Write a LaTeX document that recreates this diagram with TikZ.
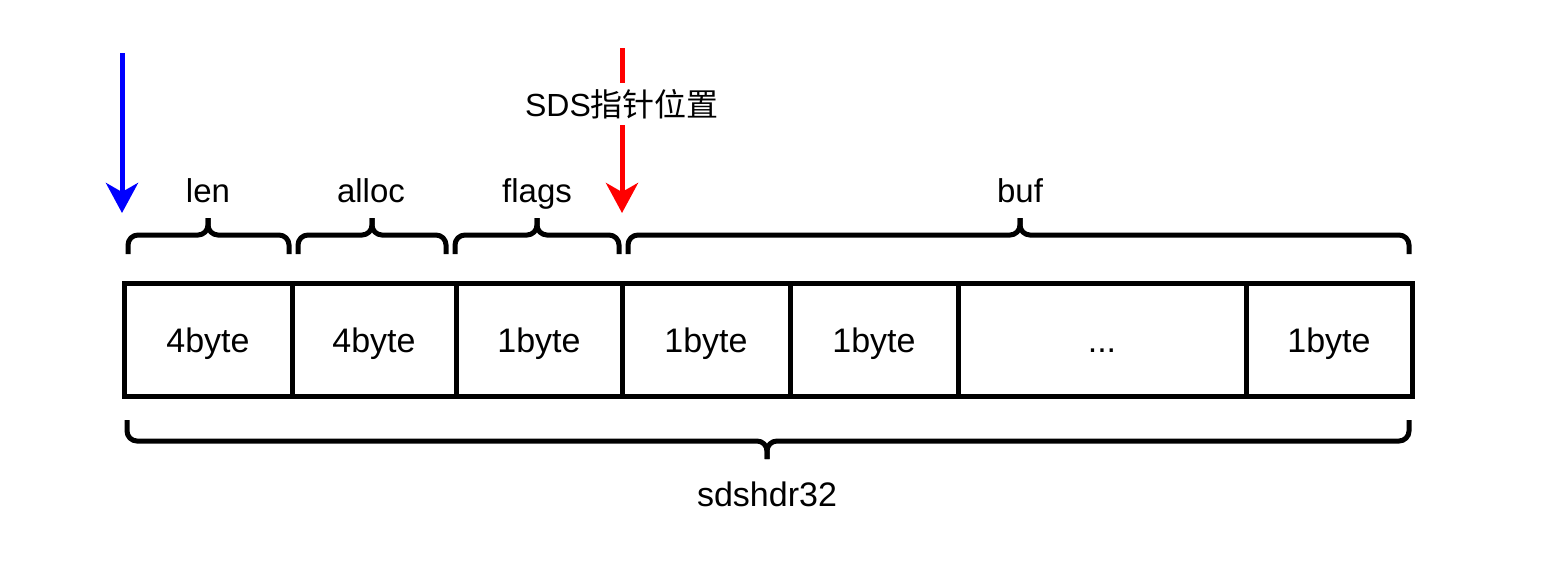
\documentclass[tikz,border=0pt]{standalone}
\usepackage{fontspec}
\setmainfont{Liberation Sans}
\newfontfamily\cjk{Noto Sans CJK SC}
\usetikzlibrary{arrows.meta}
\definecolor{ptrblue}{RGB}{0,0,255}
\definecolor{ptrred}{RGB}{255,0,0}
\begin{document}
\begin{tikzpicture}[x=1pt,y=-1pt,
  cell/.style={draw=black,line width=5pt,minimum height=113pt,inner sep=0pt,outer sep=0pt,
    font=\fontsize{34}{40}\selectfont,text height=31pt,text depth=6pt},
  lbl/.style={font=\fontsize{33}{40}\selectfont,inner sep=0pt,anchor=base},
  bracepath/.style={draw=black,line width=5pt,rounded corners=10pt},
  ptr/.style={line width=5pt,-{Stealth[length=30pt,width=32pt,inset=9pt]}}]
\useasboundingbox (0,0) rectangle (1552,568);
% cells
\node[cell,minimum width=168pt] (c1) at (208,339.5) {4byte};
\node[cell,minimum width=164pt] (c2) at (374,339.5) {4byte};
\node[cell,minimum width=166pt] (c3) at (539,339.5) {1byte};
\node[cell,minimum width=168pt] (c4) at (706,339.5) {1byte};
\node[cell,minimum width=168pt] (c5) at (874,339.5) {1byte};
\node[cell,minimum width=288pt] (c6) at (1102,339.5) {...};
\node[cell,minimum width=166pt] (c7) at (1329,339.5) {1byte};
% top braces
\draw[bracepath] (128,254) -- (128,235) -- (208,235) -- (208,218);
\draw[bracepath] (289,254) -- (289,235) -- (208,235) -- (208,218);
\draw[bracepath] (298,254) -- (298,235) -- (372,235) -- (372,218);
\draw[bracepath] (446,254) -- (446,235) -- (372,235) -- (372,218);
\draw[bracepath] (455,254) -- (455,235) -- (537,235) -- (537,218);
\draw[bracepath] (619,254) -- (619,235) -- (537,235) -- (537,218);
\draw[bracepath] (628,254) -- (628,235) -- (1020,235) -- (1020,218);
\draw[bracepath] (1409,254) -- (1409,235) -- (1020,235) -- (1020,218);
% bottom brace
\draw[bracepath] (127,420) -- (127,441) -- (767,441) -- (767,459);
\draw[bracepath] (1409,420) -- (1409,441) -- (767,441) -- (767,459);
% labels
\node[lbl] (llen) at (208,202) {len};
\node[lbl] (lalloc) at (371,202) {alloc};
\node[lbl] (lflags) at (537,202) {flags};
\node[lbl] (lbuf) at (1020,202) {buf};
\node[lbl,font=\fontsize{34}{40}\selectfont] (lsds) at (767,506) {sdshdr32};
% pointers
\coordinate (bstart) at (122,53);
\coordinate (bend) at (122,213);
\draw[ptr,ptrblue] (bstart) -- (bend);
\coordinate (rstart) at (622,48);
\coordinate (rend) at (622,213);
\draw[ptr,ptrred] (rstart) -- (rend);
\node[lbl,font=\fontsize{32}{40}\selectfont,fill=white,inner xsep=2pt,inner ysep=6pt] (sdsptr) at (622,116) {SDS{\cjk 指针位置}};
\end{tikzpicture}
\end{document}
